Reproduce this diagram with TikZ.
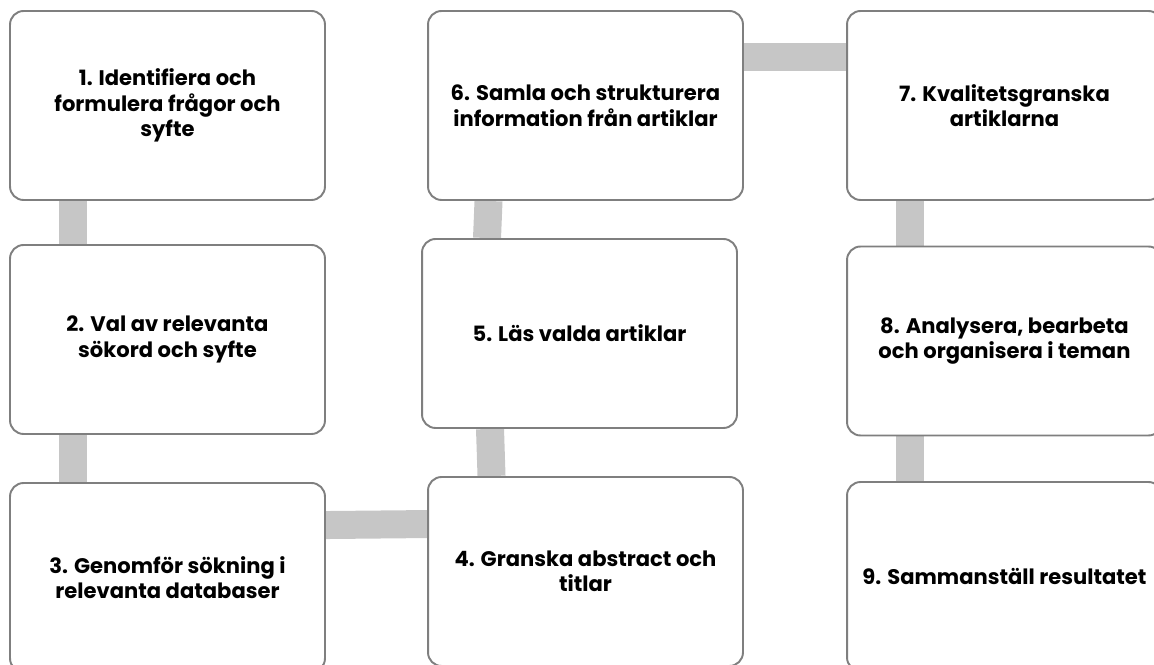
\documentclass[tikz,border=0pt]{standalone}
\usepackage{fontspec}
\setmainfont{Poppins}
\usetikzlibrary{backgrounds}
\definecolor{boxline}{HTML}{7F7F7F}
\definecolor{linkgray}{HTML}{C6C6C6}
\tikzset{
  stepbox/.style={draw=boxline, line width=1.1pt, fill=white, rounded corners=0.27cm,
    minimum width=6.3cm, minimum height=3.78cm, align=center,
    font=\bfseries\fontsize{12}{14.5}\selectfont},
  link/.style={draw=linkgray, line width=0.56cm}
}

\begin{document}
\begin{tikzpicture}[x=0.02cm,y=-0.02cm]
            \clip (0,0) rectangle (1154,665);
            \node[stepbox] (b1) at (167.5,105.5) {1. Identifiera och\\formulera frågor och\\syfte};
            \node[stepbox] (b2) at (167.5,339.5) {2. Val av relevanta\\sökord och syfte};
            \node[stepbox] (b3) at (167.5,577.5) {3. Genomför sökning i\\relevanta databaser};
            \node[stepbox] (b4) at (585.5,571.5) {4. Granska abstract och\\titlar};
            \node[stepbox] (b5) at (579.5,333.5) {5. Läs valda artiklar};
            \node[stepbox] (b6) at (585.5,105.5) {6. Samla och strukturera\\information från artiklar};
            \node[stepbox] (b7) at (1004.5,105.5) {7. Kvalitetsgranska\\artiklarna};
            \node[stepbox] (b8) at (1004.5,341) {8. Analysera, bearbeta\\och organisera i teman};
            \node[stepbox] (b9) at (1004.5,576.5) {9. Sammanställ resultatet};
            \begin{scope}[on background layer]
            \draw[link] ([xshift=-1.89cm]b1.south) -- ([xshift=-1.89cm]b2.north);
            \draw[link] ([xshift=-1.89cm]b2.south) -- ([xshift=-1.89cm]b3.north);
            \draw[link] ([yshift=-0.86cm]b3.north east) -- ([yshift=-0.96cm]b4.north west);
            \draw[link] ([xshift=-1.88cm]b4.north) -- ([xshift=-1.79cm]b5.south);
            \draw[link] ([xshift=-1.85cm]b5.north) -- ([xshift=-1.94cm]b6.south);
            \draw[link] ([yshift=-0.93cm]b6.north east) -- ([yshift=-0.93cm]b7.north west);
            \draw[link] ([xshift=-1.89cm]b7.south) -- ([xshift=-1.89cm]b8.north);
            \draw[link] ([xshift=-1.89cm]b8.south) -- ([xshift=-1.89cm]b9.north);
            \end{scope}
        \end{tikzpicture}
\end{document}
